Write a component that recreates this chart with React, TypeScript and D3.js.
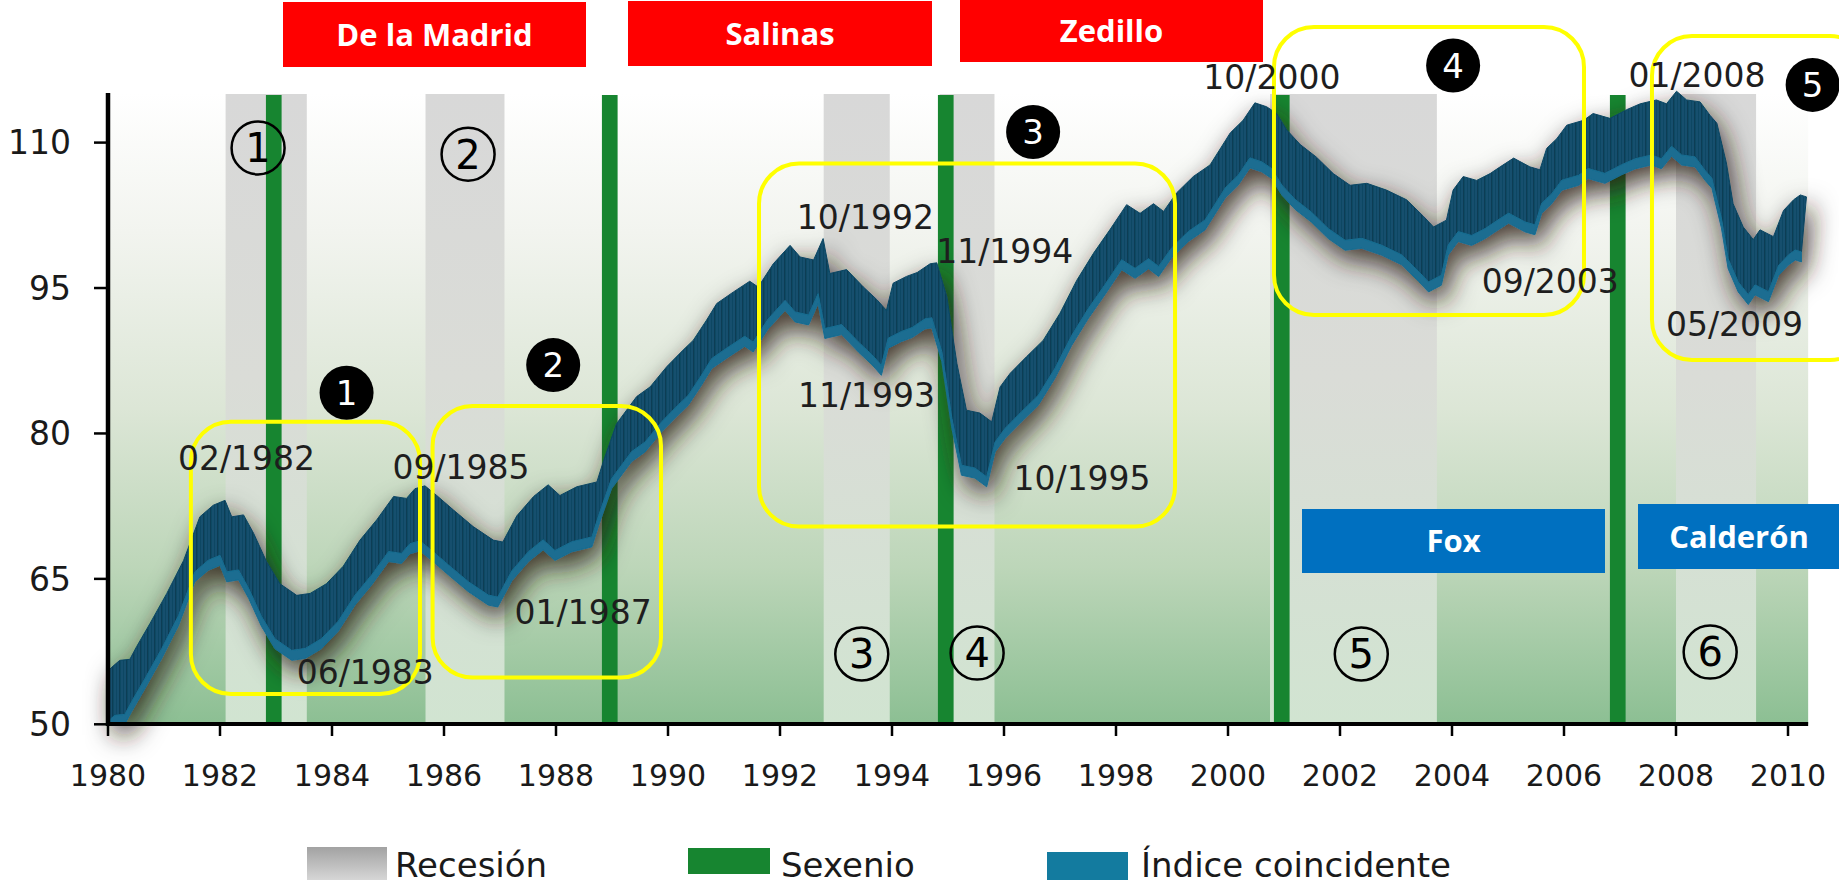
import React, { useEffect } from "react";
import * as d3 from "d3";

const W = 1839;
const H = 884;

// Índice coincidente (upper edge of the ribbon), decimal years
const indexDates = [
  1980.0, 1980.07, 1980.21, 1980.39, 1980.51, 1980.75, 1981.05, 1981.35, 1981.64, 1981.88,
  1982.09, 1982.21, 1982.42, 1982.6, 1982.83, 1983.07, 1983.37, 1983.61, 1983.9, 1984.2,
  1984.5, 1984.8, 1985.1, 1985.33, 1985.48, 1985.66, 1985.87, 1986.17, 1986.52, 1986.88,
  1987.05, 1987.3, 1987.6, 1987.86, 1988.07, 1988.37, 1988.73, 1988.85, 1989.08, 1989.44,
  1989.68, 1989.98, 1990.27, 1990.45, 1990.69, 1990.87, 1991.17, 1991.46, 1991.61, 1991.88,
  1992.18, 1992.36, 1992.6, 1992.77, 1992.89, 1993.19, 1993.49, 1993.73, 1993.9, 1994.02,
  1994.26, 1994.45, 1994.68, 1994.8, 1994.98, 1995.16, 1995.33, 1995.57, 1995.78, 1995.93,
  1996.11, 1996.4, 1996.7, 1997.0, 1997.3, 1997.6, 1997.89, 1998.19, 1998.43, 1998.67,
  1998.85, 1999.08, 1999.38, 1999.68, 2000.04, 2000.27, 2000.48, 2000.69, 2000.87, 2001.05,
  2001.29, 2001.58, 2001.88, 2002.18, 2002.48, 2002.83, 2003.19, 2003.49, 2003.67, 2003.9,
  2004.02, 2004.2, 2004.44, 2004.68, 2004.86, 2005.1, 2005.39, 2005.57, 2005.69, 2005.87,
  2006.05, 2006.35, 2006.52, 2006.82, 2007.12, 2007.36, 2007.65, 2007.83, 2008.01, 2008.19,
  2008.43, 2008.61, 2008.73, 2008.9, 2009.02, 2009.2, 2009.38, 2009.5, 2009.74, 2009.92,
  2010.1, 2010.22, 2010.33,
];
const indexValues = [
  55.5, 55.9, 56.6, 56.7, 58.0, 60.4, 63.5, 66.9, 71.4, 72.6,
  73.1, 71.4, 71.6, 69.7, 66.8, 64.5, 63.3, 63.5, 64.5, 66.3,
  69.0, 71.1, 73.5, 73.3, 74.3, 74.6, 73.6, 72.1, 70.4, 69.0,
  68.8, 71.5, 73.5, 74.7, 73.6, 74.5, 75.0, 77.2, 81.0, 83.8,
  84.8, 86.9, 88.6, 89.6, 91.7, 93.4, 94.6, 95.7, 95.1, 97.5,
  99.4, 98.2, 97.9, 100.1, 96.5, 96.9, 95.1, 93.8, 92.7, 95.5,
  96.2, 96.6, 97.5, 97.6, 94.1, 87.2, 82.4, 82.1, 81.2, 84.8,
  86.2, 87.9, 89.6, 92.4, 95.8, 98.6, 101.0, 103.6, 102.7, 103.7,
  102.9, 104.8, 106.5, 107.7, 111.0, 112.3, 114.1, 113.7, 113.0, 111.3,
  109.8, 108.5, 106.8, 105.6, 105.8, 105.1, 104.1, 102.4, 101.3, 102.0,
  105.1, 106.5, 106.1, 106.8, 107.5, 108.4, 107.5, 107.2, 109.4, 110.4,
  111.8, 112.3, 113.0, 112.5, 113.4, 114.0, 114.4, 114.0, 115.3, 114.4,
  114.2, 112.8, 112.0, 107.9, 103.7, 101.3, 100.0, 101.0, 100.3, 103.0,
  104.1, 104.6, 104.4,
];

const recessionStart = [1982.1, 1985.67, 1992.78, 1994.85, 2000.75, 2008.0];
const recessionEnd = [1983.55, 1987.08, 1993.96, 1995.83, 2003.73, 2009.43];
const sexenioDates = [1982.96, 1988.96, 1994.96, 2000.96, 2006.96];

const yTicks = [50, 65, 80, 95, 110];
const xTicks = [1980, 1982, 1984, 1986, 1988, 1990, 1992, 1994, 1996, 1998, 2000, 2002, 2004, 2006, 2008, 2010];

const turnLabels = ["02/1982", "06/1983", "09/1985", "01/1987", "10/1992", "11/1993", "11/1994", "10/1995", "10/2000", "09/2003", "01/2008", "05/2009"];
const turnYears = [1981.25, 1983.37, 1985.08, 1987.26, 1992.3, 1992.32, 1994.79, 1996.17, 1999.56, 2004.53, 2007.15, 2007.82];
const turnValues = [76.2, 54.2, 75.3, 60.3, 101.1, 82.7, 97.55, 74.2, 115.55, 94.45, 115.75, 90.05];

const recessionNums = ["1", "2", "3", "4", "5", "6"];
const recessionNumYears = [1982.68, 1986.43, 1993.46, 1995.52, 2002.38, 2008.61];
const recessionNumValues = [109.45, 108.8, 57.25, 57.35, 57.25, 57.45];

const episodeNums = ["1", "2", "3", "4", "5"];
const episodeYears = [1984.26, 1987.95, 1996.52, 2004.02, 2010.44];
const episodeValues = [84.2, 87.05, 111.1, 117.95, 115.95];

// highlighted boxes: [year0, year1, valueTop, valueBottom]
const boxYear0 = [1981.48, 1985.796, 1991.625, 2000.821, 2007.571];
const boxYear1 = [1985.571, 1989.875, 1999.054, 2006.357, 2011.464];
const boxTop = [81.21, 82.83, 107.84, 121.92, 120.99];
const boxBottom = [53.13, 54.83, 70.4, 92.22, 87.58];

const presidentsTop = ["De la Madrid", "Salinas", "Zedillo"];
const presidentsBottom = ["Fox", "Calderón"];

const legendLabels = ["Recesión", "Sexenio", "Índice coincidente"];

export default function App() {
  useEffect(() => {
    document.body.style.margin = "0";
    document.body.style.overflow = "hidden";
  }, []);

  const x = d3.scaleLinear().domain([1980, 2010]).range([108, 1788]);
  const y = d3.scaleLinear().domain([50, 110]).range([724.3, 142.6]);
  const plotTop = 93;
  const plotBottom = 724;
  const plotRight = x(2010.36);

  const top: [number, number][] = indexDates.map((t, i) => [x(t), y(indexValues[i])]);
  const DX = -5;
  const DY = 55;
  const front: [number, number][] = top.map(([px, py]) => [px + DX, py + DY]);
  const frontLow: [number, number][] = front.map(([px, py]) => [px, py + 10]);
  const line = d3.line();
  const facePath =
    (line(top) as string) +
    "L" +
    front
      .slice()
      .reverse()
      .map((p) => p.join(","))
      .join("L") +
    "Z";
  const stripPath =
    (line(front) as string) +
    "L" +
    frontLow
      .slice()
      .reverse()
      .map((p) => p.join(","))
      .join("L") +
    "Z";

  const numFont = "'DejaVu Sans', Verdana, sans-serif";
  const boldFont = "'Open Sans', 'Noto Sans', sans-serif";

  const headerRed = [
    { x0: 283, x1: 586, y0: 2, y1: 67 },
    { x0: 628, x1: 932, y0: 1, y1: 66 },
    { x0: 960, x1: 1263, y0: 0, y1: 62 },
  ];
  const headerBlue = [
    { x0: 1302, x1: 1605, y0: 509, y1: 573 },
    { x0: 1638, x1: 1845, y0: 504, y1: 569 },
  ];

  return (
    <div style={{ position: "absolute", left: 0, top: 0, width: W, height: H, background: "#fff" }}>
      <svg width={W} height={H} viewBox={`0 0 ${W} ${H}`} style={{ display: "block" }}>
        <defs>
          <linearGradient id="bg" x1="0" y1={plotTop} x2="0" y2={plotBottom} gradientUnits="userSpaceOnUse">
            <stop offset="0" stopColor="#ffffff" />
            <stop offset="0.22" stopColor="#f2f4ef" />
            <stop offset="0.5" stopColor="#dce6d6" />
            <stop offset="0.75" stopColor="#bdd6b9" />
            <stop offset="1" stopColor="#8cbf93" />
          </linearGradient>
          <linearGradient id="rec" x1="0" y1={plotTop} x2="0" y2={plotBottom} gradientUnits="userSpaceOnUse">
            <stop offset="0" stopColor="#d8d8d8" />
            <stop offset="0.45" stopColor="#dadcd7" />
            <stop offset="1" stopColor="#d1e4d1" />
          </linearGradient>
          <linearGradient id="legGrey" x1="0" y1="0" x2="0" y2="1">
            <stop offset="0" stopColor="#a2a2a2" />
            <stop offset="1" stopColor="#d6d6d6" />
          </linearGradient>
          <pattern id="stripes" width="7" height="10" patternUnits="userSpaceOnUse">
            <rect width="7" height="10" fill="#12506e" />
            <rect x="0" width="1.4" height="10" fill="#0a3850" opacity="0.85" />
            <rect x="4" width="0.9" height="10" fill="#0c3f59" opacity="0.6" />
          </pattern>
          <filter id="shadow" x="-5%" y="-40%" width="110%" height="190%">
            <feGaussianBlur in="SourceAlpha" stdDeviation="13" />
            <feOffset dx="5" dy="11" result="blur" />
            <feFlood floodColor="#2a1e14" floodOpacity="0.85" />
            <feComposite in2="blur" operator="in" />
            <feMerge>
              <feMergeNode />
              <feMergeNode in="SourceGraphic" />
            </feMerge>
          </filter>
          <clipPath id="plotClip">
            <rect x={108} y={0} width={plotRight - 108 + 4} height={plotBottom} />
          </clipPath>
        </defs>

        {/* background */}
        <rect x={108} y={plotTop} width={plotRight - 108} height={plotBottom - plotTop} fill="url(#bg)" />

        {/* recessions */}
        {recessionStart.map((s, i) => (
          <rect
            key={"r" + i}
            x={x(s)}
            y={plotTop + 1}
            width={x(recessionEnd[i]) - x(s)}
            height={plotBottom - plotTop - 1}
            fill="url(#rec)"
          />
        ))}

        {/* sexenios */}
        {sexenioDates.map((d, i) => (
          <rect key={"s" + i} x={x(d - 0.14)} y={95} width={x(d + 0.14) - x(d - 0.14)} height={plotBottom - 95} fill="#178530" />
        ))}

        {/* ribbon */}
        <g filter="url(#shadow)">
          <g clipPath="url(#plotClip)">
            <path d={facePath} fill="url(#stripes)" stroke="#0f4763" strokeWidth={1} strokeLinejoin="round" />
            <path d={stripPath} fill="#1a6d91" stroke="#1a6d91" strokeWidth={1} strokeLinejoin="round" />
          </g>
        </g>

        {/* axes */}
        <line x1={108} y1={plotTop} x2={108} y2={plotBottom + 2} stroke="#000" strokeWidth={4.5} />
        <line x1={106} y1={plotBottom} x2={plotRight} y2={plotBottom} stroke="#000" strokeWidth={4} />
        {yTicks.map((t) => (
          <g key={"yt" + t}>
            <line x1={94} x2={108} y1={y(t)} y2={y(t)} stroke="#000" strokeWidth={2.5} />
            <text x={71} y={y(t)} dy="0.36em" textAnchor="end" fontFamily={numFont} fontSize={33} fill="#1a1a1a">
              {t}
            </text>
          </g>
        ))}
        {xTicks.map((t) => (
          <g key={"xt" + t}>
            <line x1={x(t)} x2={x(t)} y1={plotBottom} y2={plotBottom + 12} stroke="#000" strokeWidth={2.5} />
            <text x={x(t)} y={786} textAnchor="middle" fontFamily={numFont} fontSize={30} fill="#1a1a1a">
              {t}
            </text>
          </g>
        ))}

        {/* yellow highlight boxes */}
        {boxYear0.map((b, i) => (
          <rect
            key={"yb" + i}
            x={x(b)}
            y={y(boxTop[i])}
            width={x(boxYear1[i]) - x(b)}
            height={y(boxBottom[i]) - y(boxTop[i])}
            rx={40}
            ry={40}
            fill="none"
            stroke="#ffff00"
            strokeWidth={4}
          />
        ))}

        {/* turning point labels */}
        {turnLabels.map((l, i) => (
          <text key={"tl" + i} x={x(turnYears[i])} y={y(turnValues[i])} fontFamily={numFont} fontSize={33} fill="#1e1e1e">
            {l}
          </text>
        ))}

        {/* recession numbers (outlined circles) */}
        {recessionNums.map((n, i) => (
          <g key={"rn" + i} transform={`translate(${x(recessionNumYears[i])},${y(recessionNumValues[i])})`}>
            <circle r={26.5} fill="none" stroke="#000" strokeWidth={2.5} />
            <text y={0} dy="0.36em" textAnchor="middle" fontFamily={numFont} fontSize={40} fill="#000">
              {n}
            </text>
          </g>
        ))}

        {/* episode numbers (filled circles) */}
        {episodeNums.map((n, i) => (
          <g key={"en" + i} transform={`translate(${x(episodeYears[i])},${y(episodeValues[i])})`}>
            <circle r={27} fill="#000" />
            <text y={0} dy="0.36em" textAnchor="middle" fontFamily={numFont} fontSize={34} fill="#fff">
              {n}
            </text>
          </g>
        ))}

        {/* president boxes */}
        {presidentsTop.map((p, i) => {
          const b = headerRed[i];
          return (
            <g key={"pt" + i}>
              <rect x={b.x0} y={b.y0} width={b.x1 - b.x0} height={b.y1 - b.y0} fill="#ff0000" />
              <text x={(b.x0 + b.x1) / 2} y={(b.y0 + b.y1) / 2} dy="0.36em" textAnchor="middle" fontFamily={boldFont} fontWeight={700} fontSize={31} fill="#fff">
                {p}
              </text>
            </g>
          );
        })}
        {presidentsBottom.map((p, i) => {
          const b = headerBlue[i];
          return (
            <g key={"pb" + i}>
              <rect x={b.x0} y={b.y0} width={b.x1 - b.x0} height={b.y1 - b.y0} fill="#0070c0" />
              <text x={i === 0 ? (b.x0 + b.x1) / 2 : 1739} y={(b.y0 + b.y1) / 2} dy="0.36em" textAnchor="middle" fontFamily={boldFont} fontWeight={700} fontSize={31} fill="#fff">
                {p}
              </text>
            </g>
          );
        })}

        {/* legend */}
        <rect x={307} y={847} width={80} height={33} fill="url(#legGrey)" />
        <text x={395} y={877} fontFamily={numFont} fontSize={34} fill="#1a1a1a">
          {legendLabels[0]}
        </text>
        <rect x={688} y={848} width={82} height={26} fill="#178530" />
        <text x={781} y={877} fontFamily={numFont} fontSize={34} fill="#1a1a1a">
          {legendLabels[1]}
        </text>
        <rect x={1047} y={852} width={81} height={28} fill="#137b9f" />
        <text x={1141} y={877} fontFamily={numFont} fontSize={34} fill="#1a1a1a">
          {legendLabels[2]}
        </text>
      </svg>
    </div>
  );
}
